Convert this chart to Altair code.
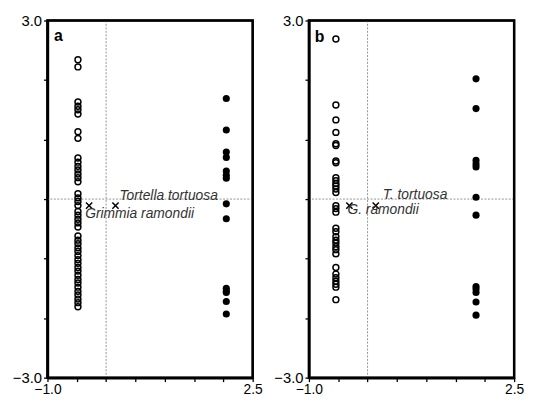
import altair as alt
import pandas as pd

# ---- data ----
panels = ["a", "b"]

y_open_a = [2.34, 2.22, 1.63, 1.56, 1.50, 1.43, 1.13, 1.02, 0.69, 0.62, 0.55, 0.49,
            0.42, 0.36, 0.29, 0.09, 0.02, -0.04, -0.11, -0.21, -0.27, -0.34, -0.40,
            -0.47, -0.62, -0.69, -0.75, -0.82, -0.88, -0.95, -1.02, -1.08, -1.15,
            -1.21, -1.28, -1.35, -1.41, -1.48, -1.55, -1.61, -1.68, -1.74, -1.81]
y_filled_a = [1.69, 1.16, 0.79, 0.70, 0.47, 0.40, 0.35, -0.08, -0.33, -1.50,
              -1.54, -1.57, -1.72, -1.93]

y_open_b = [2.69, 1.58, 1.33, 1.12, 0.93, 0.90, 0.64, 0.61, 0.36, 0.31, 0.26, 0.22,
            0.17, 0.11, -0.11, -0.16, -0.22, -0.49, -0.55, -0.63, -0.69, -0.74,
            -0.80, -0.85, -0.92, -1.15, -1.26, -1.32, -1.38, -1.43, -1.48, -1.69]
y_filled_b = [2.02, 1.52, 0.65, 0.59, 0.54, 0.03, -0.27, -1.47, -1.51, -1.57,
              -1.73, -1.95]

x_open = {"a": -0.48, "b": -0.54}
x_filled = {"a": 2.05, "b": 1.85}

species_a = ["Grimmia ramondii", "Tortella tortuosa"]
species_b = ["G. ramondii", "T. tortuosa"]
cross_x_a = [-0.29, 0.16]
cross_y_a = [-0.11, -0.11]
cross_x_b = [-0.31, 0.14]
cross_y_b = [-0.11, -0.11]

x_ticks = [-1.0, -0.5, 0.0, 0.5, 1.0, 1.5, 2.0, 2.5]
y_ticks = [-3, -2, -1, 0, 1, 2, 3]

FONT = "Liberation Sans"
W, H = 208, 362

xscale = alt.Scale(domain=[-1.0, 2.5], nice=False, zero=False)
yscale = alt.Scale(domain=[-3.0, 3.0], nice=False, zero=False)

xaxis = alt.Axis(values=x_ticks, title=None, grid=False, labelFlush=False,
                 labelExpr="datum.value == -1 ? '\u22121.0' : (datum.value == 2.5 ? '2.5' : '')",
                 tickSize=4, tickColor="black", tickWidth=1.3, domainColor="black",
                 domainWidth=2.5, labelFontSize=14, labelColor="black", labelFont=FONT,
                 labelPadding=1)
yaxis = alt.Axis(values=y_ticks, title=None, grid=False,
                 labelExpr="datum.value == 3 ? '3.0' : (datum.value == -3 ? '\u22123.0' : '')",
                 tickSize=4, tickColor="black", tickWidth=1.3, domainColor="black",
                 domainWidth=2.5, labelFontSize=15, labelColor="black", labelFont=FONT,
                 labelPadding=2)


def panel(letter, y_open, y_filled, names, cx, cy, dxs, dys, letter_xy):
    pts = pd.DataFrame(
        {"x": [x_open[letter]] * len(y_open) + [x_filled[letter]] * len(y_filled),
         "y": y_open + y_filled,
         "kind": ["open"] * len(y_open) + ["filled"] * len(y_filled)})
    crosses = pd.DataFrame({"x": cx, "y": cy, "name": names})
    zero = pd.DataFrame({"v": [0.0]})
    lab = pd.DataFrame({"x": [letter_xy[0]], "y": [letter_xy[1]], "t": [letter]})

    vline = alt.Chart(zero).mark_rule(color="#777777", strokeWidth=0.8,
                                      strokeDash=[2, 1.5]).encode(
        x=alt.X("v:Q", scale=xscale, axis=xaxis))
    hline = alt.Chart(zero).mark_rule(color="#777777", strokeWidth=0.8,
                                      strokeDash=[2, 1.5]).encode(
        y=alt.Y("v:Q", scale=yscale, axis=yaxis))

    frame = alt.Chart(zero).mark_rect(
        fill=None, stroke="black", strokeWidth=2).encode(
        x=alt.value(0), x2=alt.value(W), y=alt.value(0), y2=alt.value(H))

    open_pts = alt.Chart(pts[pts.kind == "open"]).mark_point(
        shape="circle", filled=False, color="black", strokeWidth=1.5, size=36,
        opacity=1).encode(x=alt.X("x:Q", scale=xscale, axis=xaxis),
                          y=alt.Y("y:Q", scale=yscale, axis=yaxis))
    filled_pts = alt.Chart(pts[pts.kind == "filled"]).mark_point(
        shape="circle", filled=True, color="black", size=52,
        opacity=1).encode(x=alt.X("x:Q", scale=xscale, axis=xaxis),
                          y=alt.Y("y:Q", scale=yscale, axis=yaxis))
    cross = alt.Chart(crosses).mark_point(
        shape="M-1,-1L1,1M1,-1L-1,1", filled=False, color="black",
        strokeWidth=1.5, size=40, opacity=1).encode(
        x=alt.X("x:Q", scale=xscale, axis=xaxis),
        y=alt.Y("y:Q", scale=yscale, axis=yaxis))

    texts = []
    for i, nm in enumerate(names):
        texts.append(alt.Chart(crosses.iloc[[i]]).mark_text(
            align="left", baseline="middle", fontStyle="italic", font=FONT,
            fontSize=14, color="#333333", dx=dxs[i], dy=dys[i]).encode(
            x=alt.X("x:Q", scale=xscale, axis=xaxis),
            y=alt.Y("y:Q", scale=yscale, axis=yaxis), text="name:N"))

    letter_txt = alt.Chart(lab).mark_text(
        align="left", baseline="middle", fontWeight="bold", font=FONT,
        fontSize=16, color="black").encode(
        x=alt.X("x:Q", scale=xscale, axis=xaxis),
        y=alt.Y("y:Q", scale=yscale, axis=yaxis), text="t:N")

    return alt.layer(vline, hline, open_pts, filled_pts, cross, *texts,
                     letter_txt, frame).properties(width=W, height=H)


pa = panel("a", y_open_a, y_filled_a, species_a, cross_x_a, cross_y_a,
           [-4, 4], [9, -10], (-0.89, 2.73))
pb = panel("b", y_open_b, y_filled_b, species_b, cross_x_b, cross_y_b,
           [-2, 7], [4, -11], (-0.9, 2.72))

chart = alt.hconcat(pa, pb, spacing=9).properties(
    padding={"left": 3, "top": 1, "right": 0, "bottom": 0},
    background="white"
).configure_view(
    stroke="#000000", strokeWidth=2.5
).configure_axis(
    domainColor="#000000", domainWidth=2.5, tickColor="#000000"
)

chart.save("out.html", embed_options={"renderer": "svg", "actions": False})
